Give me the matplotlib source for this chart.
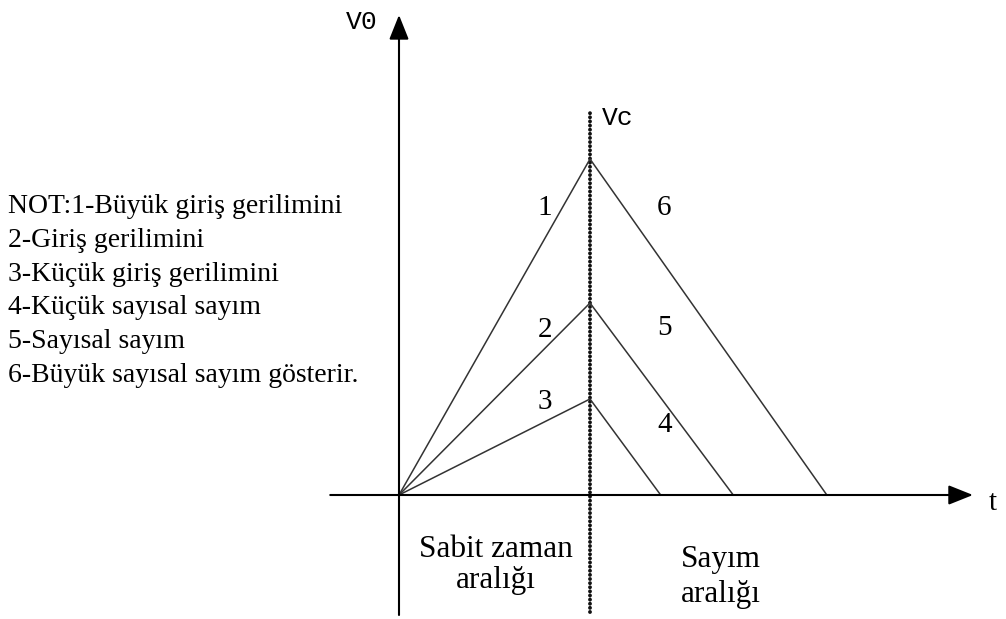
import matplotlib
matplotlib.use("Agg")
import matplotlib.pyplot as plt

# ── data ──────────────────────────────────────────────────────────────────────
T_CHARGE   = 1.0                     # sabit zaman aralığı sonu (Vc çizgisi)
PEAKS      = [3.5, 2.0, 1.0]         # büyük / orta / küçük giriş gerilimi
END_TIMES  = [2.24, 1.75, 1.37]      # sayım bitişleri
RISE_NAMES = ["1", "2", "3"]
FALL_NAMES = ["6", "5", "4"]
NOTE_LINES = [
    "NOT:1-Büyük giriş gerilimini",
    "2-Giriş gerilimini",
    "3-Küçük giriş gerilimini",
    "4-Küçük sayısal sayım",
    "5-Sayısal sayım",
    "6-Büyük sayısal sayım gösterir.",
]
SABIT_LINES = ["Sabit zaman", "aralığı"]
SAYIM_LINES = ["Sayım", "aralığı"]

SERIF = ["Liberation Serif", "DejaVu Serif"]
MONO  = ["Liberation Mono", "DejaVu Sans Mono"]

# 1 birim zaman = 191 px, 1 birim gerilim = 96 px
PX_T, PX_V = 191.0, 96.0

fig = plt.figure(figsize=(10.06, 6.19), dpi=100)
ax = fig.add_axes([0, 0, 1, 1])
ax.set_xlim(-399 / PX_T, 607 / PX_T)
ax.set_ylim(-124 / PX_V, 495 / PX_V)
ax.axis("off")

# eksenler
arrow = dict(arrowstyle="-|>,head_length=0.75,head_width=0.3",
             color="black", lw=1.5, shrinkA=0, shrinkB=0, mutation_scale=20)
ax.annotate("", xy=(0, 5.0), xytext=(0, -1.25), arrowprops=arrow)
ax.annotate("", xy=(3.005, 0), xytext=(-0.36, 0), arrowprops=arrow)

# Vc noktalı çizgi
ax.plot([T_CHARGE, T_CHARGE], [-1.22, 4.01], color="#111111", lw=2.8,
        linestyle=(0, (0.01, 1.05)), dash_capstyle="round")

# integratör rampaları
for peak, t_end in zip(PEAKS, END_TIMES):
    ax.plot([0, T_CHARGE, t_end], [0, peak, 0], color="#333333", lw=1.1)

# numaralar
for name, y in zip(RISE_NAMES, [2.99, 1.72, 0.97]):
    ax.text(0.764, y, name, fontsize=21, family=SERIF, ha="center", va="center")
for name, y in zip(FALL_NAMES, [2.99, 1.74, 0.73]):
    ax.text(1.39, y, name, fontsize=21, family=SERIF, ha="center", va="center")

# etiketler
ax.text(-0.11, 4.93, "V0", fontsize=19, family=MONO, ha="right", va="center")
ax.text(1.06, 3.93, "Vc", fontsize=19, family=MONO, ha="left", va="center")
ax.text(3.11, -0.08, "t", fontsize=21, family=SERIF, ha="center", va="center")

for i, line in enumerate(NOTE_LINES):
    ax.text(-391 / PX_T, (495 - 213 - i * 33.8) / PX_V, line, fontsize=20,
            family=SERIF, ha="left", va="baseline")

for i, line in enumerate(SABIT_LINES):
    ax.text(97 / PX_T, (495 - 557 - i * 31) / PX_V, line, fontsize=22.5,
            family=SERIF, ha="center", va="baseline")
for i, line in enumerate(SAYIM_LINES):
    ax.text(322 / PX_T, (495 - 567 - i * 35) / PX_V, line, fontsize=22.5,
            family=SERIF, ha="center", va="baseline")

fig.savefig("out.png", dpi=100, facecolor="white")
